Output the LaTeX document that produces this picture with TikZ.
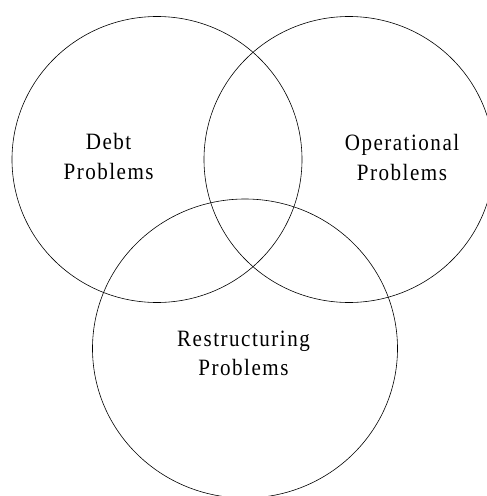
\documentclass[tikz,border=0pt]{standalone}
\usepackage{fontspec}
\setmainfont{Liberation Serif}[FakeStretch=0.9,LetterSpace=6.4]
\usetikzlibrary{shapes.geometric}
\begin{document}
\begin{tikzpicture}[x=1pt,y=-1pt,
  ring/.style={draw=black,line width=0.6pt},
  label/.style={inner sep=0pt,align=center,anchor=base,
    font=\fontsize{23.4}{29.5}\selectfont}]
\useasboundingbox (0,0) rectangle (487,496);
\clip (0,0) rectangle (487,496);
\draw[ring] (157,159.5) ellipse [x radius=145, y radius=143];
\draw[ring] (349,159.5) ellipse [x radius=145, y radius=143];
\draw[ring] (245,348.5) ellipse [x radius=152.5, y radius=149.5];
\node[label] (debt) at (108.6,179.3) {Debt\\Problems};
\node[label] (oper) at (402,180) {Operational\\Problems};
\node[label] (rest) at (243.5,375.7) {Restructuring\\Problems};
\end{tikzpicture}
\end{document}
